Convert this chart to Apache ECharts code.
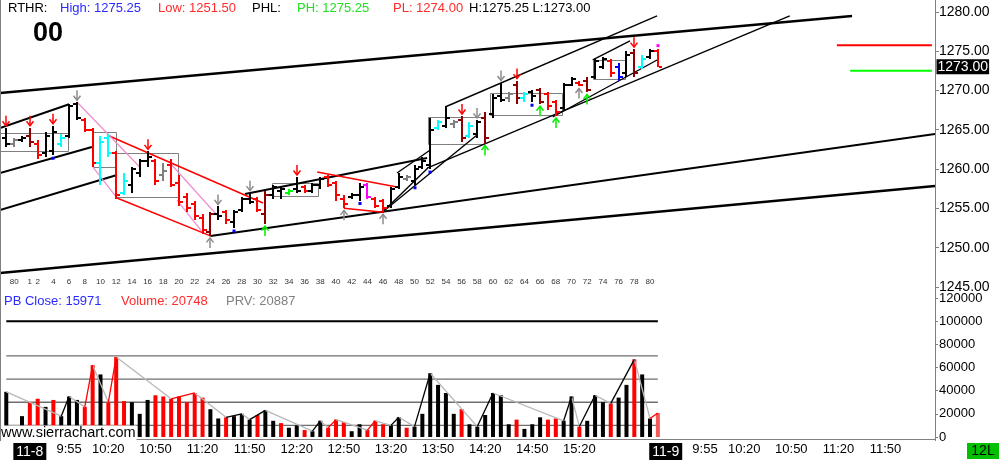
<!DOCTYPE html>
<html><head><meta charset="utf-8">
<script src="https://cdn.jsdelivr.net/npm/echarts@6/dist/echarts.min.js"></script>
<style>html,body{margin:0;padding:0;background:#fff}#c{width:1000px;height:460px}</style>
</head><body><div id="c"></div>
<script>
// ---------- DATA ----------
const FIRST_BAR = -2; // bar index of first element (bars -2..0 are previous session)
// p = -2 .. 81
const opens = [
 1264.0,1263.25,1263.75,1264.25,1263.25,1262.0,1262.25,1263.25,1264.25,1268.25,
 1266.25,1265.0,1260.75,1264.0,1262.0,1257.0,1258.0,1259.5,1261.0,1261.0,
 1259.25,1260.5,1258.25,1256.5,1255.5,1253.75,1252.0,1254.25,1254.5,1253.25,
 1254.75,1256.25,1256.25,1254.25,1256.75,1257.25,1257.0,1257.5,1257.75,1257.25,
 1258.0,1259.0,1258.25,1256.25,1256.5,1256.75,1258.0,1256.25,1256.0,1255.25,
 1257.75,1258.75,1258.5,1260.25,1260.5,1265.25,1265.5,1265.75,1266.25,1264.25,
 1264.5,1266.5,1267.0,1269.25,1269.0,1270.75,1269.0,1269.75,1270.0,1269.5,
 1268.5,1267.75,1270.75,1271.0,1271.25,1271.75,1273.0,1273.75,1273.0,1272.25,
 1274.75,1273.0,1274.25,1275.0];
const highs = [
 1265.25,1264.0,1264.25,1265.25,1263.75,1264.75,1265.5,1264.5,1268.25,1268.5,
 1266.5,1265.25,1264.25,1264.5,1262.25,1259.5,1260.25,1261.25,1262.25,1261.25,
 1260.75,1261.25,1259.25,1257.0,1256.0,1254.25,1254.5,1255.25,1254.75,1254.75,
 1256.5,1257.0,1256.5,1257.25,1258.0,1257.75,1257.5,1259.0,1258.0,1258.25,
 1259.0,1259.25,1258.5,1256.75,1257.0,1258.25,1258.25,1256.5,1256.25,1257.75,
 1259.5,1259.25,1260.5,1261.5,1266.5,1266.25,1268.0,1266.25,1266.75,1266.0,
 1266.25,1267.25,1269.5,1271.0,1269.75,1271.25,1269.75,1270.0,1270.25,1269.75,
 1268.75,1271.0,1271.75,1271.25,1271.75,1274.0,1274.25,1274.0,1273.5,1275.0,
 1275.25,1274.5,1275.25,1275.25];
const lows = [
 1262.75,1262.75,1263.5,1262.75,1261.25,1261.5,1261.75,1262.75,1264.0,1266.25,
 1264.75,1260.25,1258.0,1261.5,1256.25,1256.75,1257.0,1259.0,1260.25,1258.0,
 1258.5,1257.75,1255.25,1254.5,1253.5,1251.75,1251.5,1253.5,1253.0,1252.5,
 1254.5,1255.5,1254.5,1253.0,1256.25,1256.25,1256.75,1257.0,1257.0,1257.0,
 1257.5,1257.75,1256.0,1255.0,1256.25,1256.0,1256.25,1255.0,1254.5,1255.0,
 1257.5,1258.5,1258.0,1260.0,1260.0,1265.0,1265.25,1265.25,1263.5,1264.0,
 1264.0,1263.25,1266.5,1268.5,1268.5,1268.25,1268.5,1268.5,1268.25,1267.5,
 1266.75,1267.5,1270.5,1270.5,1269.75,1271.5,1272.75,1271.75,1271.25,1271.75,
 1271.75,1272.75,1274.0,1273.0];
const closes = [
 1263.25,1263.75,1264.0,1263.5,1261.75,1264.25,1264.75,1264.0,1268.0,1266.5,
 1265.0,1260.75,1263.5,1262.0,1256.75,1258.5,1260.0,1261.0,1261.5,1258.5,
 1259.75,1258.0,1255.75,1255.0,1254.0,1252.25,1254.25,1254.0,1253.5,1254.5,
 1256.25,1255.75,1254.75,1256.75,1257.75,1257.5,1257.25,1257.25,1257.25,1258.0,
 1258.75,1258.0,1256.75,1255.5,1256.75,1257.75,1256.5,1255.25,1255.0,1257.5,
 1259.0,1259.0,1260.0,1261.0,1265.0,1266.0,1266.5,1266.0,1264.0,1265.5,
 1266.0,1264.0,1269.0,1268.75,1269.5,1269.0,1269.5,1269.25,1268.5,1268.0,
 1267.25,1270.75,1271.5,1270.75,1270.0,1273.75,1274.0,1272.25,1271.75,1274.5,
 1272.25,1274.0,1275.0,1273.0];
const barColorKeys = (
 'k g k m r k k c k k ' + 'r r c c r c k k k r ' + 'g r r r r r m k r k ' +
 'k k r m k k G k r k ' + 'k r r r k k M r r k ' + 'k g k k k c k g m c ' +
 'k m k k g m c k m r ' + 'r k k r m k k r b k ' + 'm c k r').trim().split(' ');
const volumes = [
 39000,5000,18000,30000,33000,26000,32000,18000,35000,32000,
 26000,62000,54000,30000,69000,31000,30000,20000,32000,36000,
 35000,33000,35000,30000,38000,34000,24000,16000,17000,18000,
 20000,15000,19000,23000,14000,12000,8000,10000,6000,5000,
 14000,8000,15000,13000,5000,11000,6000,14000,11000,10000,
 17000,8000,9000,20000,55000,45000,38000,20000,24000,11000,
 9000,19000,38000,36000,11000,15000,7000,11000,17000,15000,
 16000,14000,35000,9000,14000,36000,30000,29000,34000,45000,
 67000,54000,16000,20748];
const volColorKeys = (
 'k k k r r k r k k k ' + 'r r k r r r k k k r ' + 'r r r r r r k k r k ' +
 'k k r k k r k k r k ' + 'k r r r k k r r r k ' + 'k r k k k k k k r k ' +
 'k k k k k r k k k r ' + 'r k k r k k k r k k ' + 'r k k p').trim().split(' ');
// volume swing line (bar indices) and segment types
const volSwingBars = [-2,5,6,8,9,11,12,19,22,26,28,29,31,37,38,39,40,44,45,47,48,50,52,58,60,69,70,71,73,75,78,80,81];
const volSwingSegType = ['dn','k','dn','r','dn','r','dn','r','dn','k','dn','k','dn','k','dn','r','dn','r','dn','k','dn','k','dn','k','dn','k','dn','k','dn','k','dn','r'];
const volGuideLevels = [10000, 30000, 50000, 70000];
const volLimitLevel = 100000;
const volGuideSpan = [-2, 81];
// trend lines [p1, price1, p2, price2]
const trendThick = [[-2.8,1269.67,105.73,1279.47],[-2.8,1246.78,116.3,1257.84]];
const trendMedium = [[24,1251.5,116.3,1264.45],[-2.8,1265.22,6,1268.25],[-2.8,1259.5,8.9,1262.8],
  [-2.8,1254.79,12.1,1259.24],[28.4,1256.83,51.6,1261.41]];
const trendThin = [[47.77,1259.5,52.0,1262.42],[45.9,1254.5,51.7,1260.13],[45.9,1254.5,57.96,1264.33],
  [53.9,1267.89,80.9,1279.47],[51.6,1260.13,97.8,1279.47],[67.6,1266.62,80.9,1273.87],[72.7,1273.87,77.45,1276.29]];
const trendRed = [[10.83,1264.33,30.7,1255.68],[12.1,1256.32,24,1251.5],[37.6,1259.63,47.77,1257.72],[41,1255.0,46,1254.5]];
const trendPink = [[7.0,1268.53,15.0,1260.26],[9.04,1260.26,12.1,1256.32],[18.85,1260.77,24.84,1254.16],[19.75,1256.06,23.06,1251.87]];
// range boxes [p1, p2, top, bottom]
const rangeBoxes = [[-3,5.86,1264.59,1262.3],[9.04,11.97,1264.71,1260.26],[11.97,19.87,1262.04,1256.45],
  [31.9,37.8,1258.23,1256.57],[51.7,58.85,1266.62,1263.19],[59.6,68.8,1269.67,1266.87],[72.7,76.8,1273.87,1271.45]];
// right side levels [p1, p2, price]
const redLevel = [103.8, 115.9, 1275.75];
const greenLevel = [105.5, 115.9, 1272.5];
// signal markers (bar indices)
const redDownArrows = [-2,1,4,16,35,56,63,78];
const grayDownArrows = [7,25,29,58,61];
const grayUpArrows = [24,41,46,71];
const greenUpArrows = [31,59,66,68,72];
const blueDots = [4,27,43,50,52,65];
const magentaDots = [81];
// axes
const priceTicks = [1245,1250,1255,1260,1265,1270,1275,1280];
const barTickValues = [-3,-1,1,2,4,6,8,10,12,14,16,18,20,22,24,26,28,30,32,34,36,38,40,42,44,46,48,50,52,54,56,58,60,62,64,66,68,70,72,74,76,78,80];
const barTickLabels = ['78','80','1','2','4','6','8','10','12','14','16','18','20','22','24','26','28','30','32','34','36','38','40','42','44','46','48','50','52','54','56','58','60','62','64','66','68','70','72','74','76','78','80'];
const timeTickValues = [1,6,11,17,23,29,35,41,47,53,59,65,71,82,87,92,98,104,110];
const timeTickLabels = ['11-8','9:55','10:20','10:50','11:20','11:50','12:20','12:50','13:20','13:50','14:20','14:50','15:20','11-9','9:55','10:20','10:50','11:20','11:50'];
const pbClose = 15971;
const prevVolume = 20887;

// ---------- CHART ----------
const FONT = '"Liberation Sans", Arial, sans-serif';
const COLORS = {k:'#000000', g:'#808080', m:'#8b0000', r:'#ff0000', c:'#00ffff', G:'#00ff00', b:'#0000ff', M:'#ff00ff', p:'#f25a5a'};
const X_MIN = -2.8, X_MAX = 116.3;
const day1Start = 1 - FIRST_BAR;
const dayHigh = Math.max(...highs.slice(day1Start));
const dayLow = Math.min(...lows.slice(day1Start));
const nLast = closes.length - 1;

function segSeries(data, color, width, xi, yi, z) {
  return {type:'custom', xAxisIndex:xi, yAxisIndex:yi, z, silent:true, clip:true,
    data, encode:{x:[0,2], y:[1,3]},
    renderItem(params, api) {
      const a = api.coord([api.value(0), api.value(1)]);
      const b = api.coord([api.value(2), api.value(3)]);
      return {type:'line', shape:{x1:a[0], y1:a[1], x2:b[0], y2:b[1]}, style:{stroke:color, lineWidth:width}};
    }};
}
function markerSeries(bars, kind, color) {
  return {type:'custom', xAxisIndex:0, yAxisIndex:0, z:6, silent:true, clip:true,
    data: bars.map(p => { const i = p - FIRST_BAR; return [p, (kind === 'down' || kind === 'dotTop') ? highs[i] : lows[i]]; }),
    encode:{x:0, y:1},
    renderItem(params, api) {
      const pt = api.coord([api.value(0), api.value(1)]);
      const x = Math.round(pt[0]);
      const st = {stroke:color, lineWidth:1.5, fill:null};
      if (kind === 'down') {
        const t = pt[1] - 2;
        return {type:'group', children:[
          {type:'line', shape:{x1:x, y1:t-10, x2:x, y2:t}, style:st},
          {type:'polyline', shape:{points:[[x-3.5,t-4.5],[x,t],[x+3.5,t-4.5]]}, style:st}]};
      }
      if (kind === 'up') {
        const t = pt[1] + 2;
        return {type:'group', children:[
          {type:'line', shape:{x1:x, y1:t, x2:x, y2:t+10}, style:st},
          {type:'polyline', shape:{points:[[x-3.5,t+4.5],[x,t],[x+3.5,t+4.5]]}, style:st}]};
      }
      const y = kind === 'dotTop' ? pt[1] - 5 : pt[1] + 1.5;
      return {type:'rect', shape:{x:x-1.5, y, width:3, height:3}, style:{fill:color}};
    }};
}

const ohlcData = opens.map((o, i) => [FIRST_BAR + i, o, highs[i], lows[i], closes[i], i]);
const volData = volumes.map((v, i) => ({value:[FIRST_BAR + i, v], itemStyle:{color:COLORS[volColorKeys[i]]}}));
const volAt = p => volumes[p - FIRST_BAR];
const swingDown = [], swingK = [], swingR = [];
for (let k = 0; k < volSwingBars.length - 1; k++) {
  const a = volSwingBars[k], b = volSwingBars[k+1];
  const seg = [a, volAt(a), b, volAt(b)];
  const t = volSwingSegType[k];
  (t === 'dn' ? swingDown : t === 'k' ? swingK : swingR).push(seg);
}
const volGuides = volGuideLevels.map(v => [volGuideSpan[0], v, volGuideSpan[1], v]);

const txt = (x, y, text, fill, size, extra) => ({type:'text', x, y, z:50, silent:true,
  style:Object.assign({text, fill, font:`${size}px ${FONT}`, verticalAlign:'middle'}, extra || {})});

const option = {
  animation:false,
  backgroundColor:'#ffffff',
  grid:[
    {left:0, right:65, top:0, height:287},
    {left:0, right:65, top:298, height:141}
  ],
  xAxis:[
    {type:'value', gridIndex:0, min:X_MIN, max:X_MAX, position:'bottom',
      axisLine:{show:false, onZero:false}, axisTick:{show:false}, splitLine:{show:false},
      axisLabel:{customValues:barTickValues, inside:true, margin:1, fontSize:8, color:'#333', fontFamily:FONT,
        formatter:v => barTickLabels[barTickValues.indexOf(v)] || ''}},
    {type:'value', gridIndex:1, min:X_MIN, max:X_MAX, position:'bottom', offset:2,
      axisLine:{show:true, onZero:false, lineStyle:{color:'#808080', width:1}}, axisTick:{show:false}, splitLine:{show:false},
      axisLabel:{customValues:timeTickValues, margin:4, fontSize:13, color:'#000', fontFamily:FONT,
        formatter:v => { const t = timeTickLabels[timeTickValues.indexOf(v)] || ''; return t.indexOf('-') >= 0 ? '{d|' + t + '}' : t; },
        rich:{d:{backgroundColor:'#000', color:'#fff', fontSize:14, fontFamily:FONT, padding:[2,3,1,3]}}}}
  ],
  yAxis:[
    {type:'value', gridIndex:0, position:'right', min:1245, max:1281.5, scale:true,
      axisLine:{show:false, onZero:false}, splitLine:{show:false},
      axisTick:{show:true, customValues:priceTicks, length:4, lineStyle:{color:'#808080'}},
      axisLabel:{customValues:priceTicks, margin:4, fontSize:14, color:'#000', fontFamily:FONT, formatter:v => v.toFixed(2)}},
    {type:'value', gridIndex:1, position:'right', min:0, max:120000, interval:20000,
      axisLine:{show:false, onZero:false}, splitLine:{show:false},
      axisTick:{show:true, length:3, lineStyle:{color:'#808080'}},
      axisLabel:{margin:4, fontSize:13, color:'#000', fontFamily:FONT, formatter:v => String(v)}}
  ],
  series:[
    // price panel
    {type:'custom', xAxisIndex:0, yAxisIndex:0, z:2, silent:true, clip:true, data:rangeBoxes,
      encode:{x:[0,1], y:[2,3]},
      renderItem(params, api) {
        const a = api.coord([api.value(0), api.value(2)]);
        const b = api.coord([api.value(1), api.value(3)]);
        return {type:'rect', shape:{x:Math.round(a[0])+0.5, y:Math.round(a[1])+0.5, width:Math.round(b[0]-a[0]), height:Math.round(b[1]-a[1])},
          style:{stroke:'#808080', fill:null, lineWidth:1}};
      }},
    segSeries(trendThick, '#000', 2.6, 0, 0, 3),
    segSeries(trendMedium, '#000', 2, 0, 0, 3),
    segSeries(trendThin, '#000', 1.4, 0, 0, 3),
    segSeries(trendRed, '#ff0000', 1.5, 0, 0, 3),
    segSeries(trendPink, '#f08ccf', 1.2, 0, 0, 3),
    segSeries([[redLevel[0], redLevel[2], redLevel[1], redLevel[2]]], '#ff0000', 2, 0, 0, 3),
    segSeries([[greenLevel[0], greenLevel[2], greenLevel[1], greenLevel[2]]], '#00ff00', 2, 0, 0, 3),
    {type:'custom', name:'Price', xAxisIndex:0, yAxisIndex:0, z:4, silent:true, clip:true,
      data:ohlcData, encode:{x:0, y:[1,2,3,4]},
      renderItem(params, api) {
        const p = api.value(0);
        const h = api.coord([p, api.value(2)]);
        const l = api.coord([p, api.value(3)]);
        const o = api.coord([p, api.value(1)]);
        const c = api.coord([p, api.value(4)]);
        const col = COLORS[barColorKeys[api.value(5)]];
        const x = Math.round(h[0]);
        const top = Math.round(h[1]), bot = Math.max(Math.round(l[1]), top + 2);
        return {type:'group', children:[
          {type:'rect', shape:{x:x-1, y:top, width:2, height:bot-top}, style:{fill:col}},
          {type:'rect', shape:{x:x-4, y:Math.round(o[1])-1, width:3, height:2}, style:{fill:col}},
          {type:'rect', shape:{x:x+1, y:Math.round(c[1])-1, width:3, height:2}, style:{fill:col}}
        ]};
      },
      markPoint:{silent:true, symbol:'rect', symbolSize:1, itemStyle:{color:'rgba(0,0,0,0)'},
        data:[{coord:[X_MAX, closes[nLast]]}],
        label:{show:true, position:'right', distance:1, formatter:closes[nLast].toFixed(2), backgroundColor:'#000', color:'#fff',
          fontSize:14, fontFamily:FONT, padding:[1,1,0,1]}}
    },
    markerSeries(redDownArrows, 'down', '#ff0000'),
    markerSeries(grayDownArrows, 'down', '#8c8c8c'),
    markerSeries(grayUpArrows, 'up', '#8c8c8c'),
    markerSeries(greenUpArrows, 'up', '#00ee00'),
    markerSeries(blueDots, 'dotBottom', '#0000ff'),
    markerSeries(magentaDots, 'dotTop', '#ff00ff'),
    // volume panel
    segSeries(volGuides, '#6e6e6e', 1.3, 1, 1, 1),
    segSeries([[volGuideSpan[0], volLimitLevel, volGuideSpan[1], volLimitLevel]], '#000', 2, 1, 1, 1),
    {type:'bar', xAxisIndex:1, yAxisIndex:1, z:2, silent:true, barWidth:4, data:volData},
    segSeries(swingDown, '#b8b8b8', 1.3, 1, 1, 3),
    segSeries(swingK, '#000', 1.3, 1, 1, 3),
    segSeries(swingR, '#ff0000', 1.3, 1, 1, 3)
  ],
  graphic:[
    {type:'line', silent:true, z:40, shape:{x1:935.5, y1:0, x2:935.5, y2:441}, style:{stroke:'#808080', lineWidth:1}},
    {type:'line', silent:true, z:40, shape:{x1:0.5, y1:0, x2:0.5, y2:441}, style:{stroke:'#808080', lineWidth:1}},
    txt(8, 8.5, 'RTHR:', '#000', 13),
    txt(60, 8.5, 'High: ' + dayHigh.toFixed(2), '#2b2bff', 13),
    txt(158, 8.5, 'Low: ' + dayLow.toFixed(2), '#ff2b2b', 13),
    txt(252, 8.5, 'PHL:', '#000', 13),
    txt(297, 8.5, 'PH: ' + highs[nLast-1].toFixed(2), '#22e022', 13),
    txt(393, 8.5, 'PL: ' + lows[nLast-1].toFixed(2), '#ff2b2b', 13),
    txt(469, 8.5, 'H:' + highs[nLast].toFixed(2) + ' L:' + lows[nLast].toFixed(2), '#000', 13),
    txt(33, 34, '00', '#000', 27, {font:`bold 27px ${FONT}`}),
    txt(4, 301, 'PB Close: ' + pbClose, '#2b2bff', 13),
    txt(121, 301, 'Volume: ' + volumes[nLast], '#ff2b2b', 13),
    txt(226, 301, 'PRV: ' + prevVolume, '#808080', 13),
    txt(1, 433, 'www.sierrachart.com', '#000', 14.5, {backgroundColor:'#fff', padding:[0,1,0,0]}),
    {type:'rect', silent:true, z:50, shape:{x:967, y:443, width:32, height:16}, style:{fill:'#00c000'}},
    txt(983, 451, '12L', '#000', 14, {align:'center'})
  ]
};
const chart = echarts.init(document.getElementById('c'), null, {renderer:'canvas'});
chart.setOption(option);
</script>
</body></html>
